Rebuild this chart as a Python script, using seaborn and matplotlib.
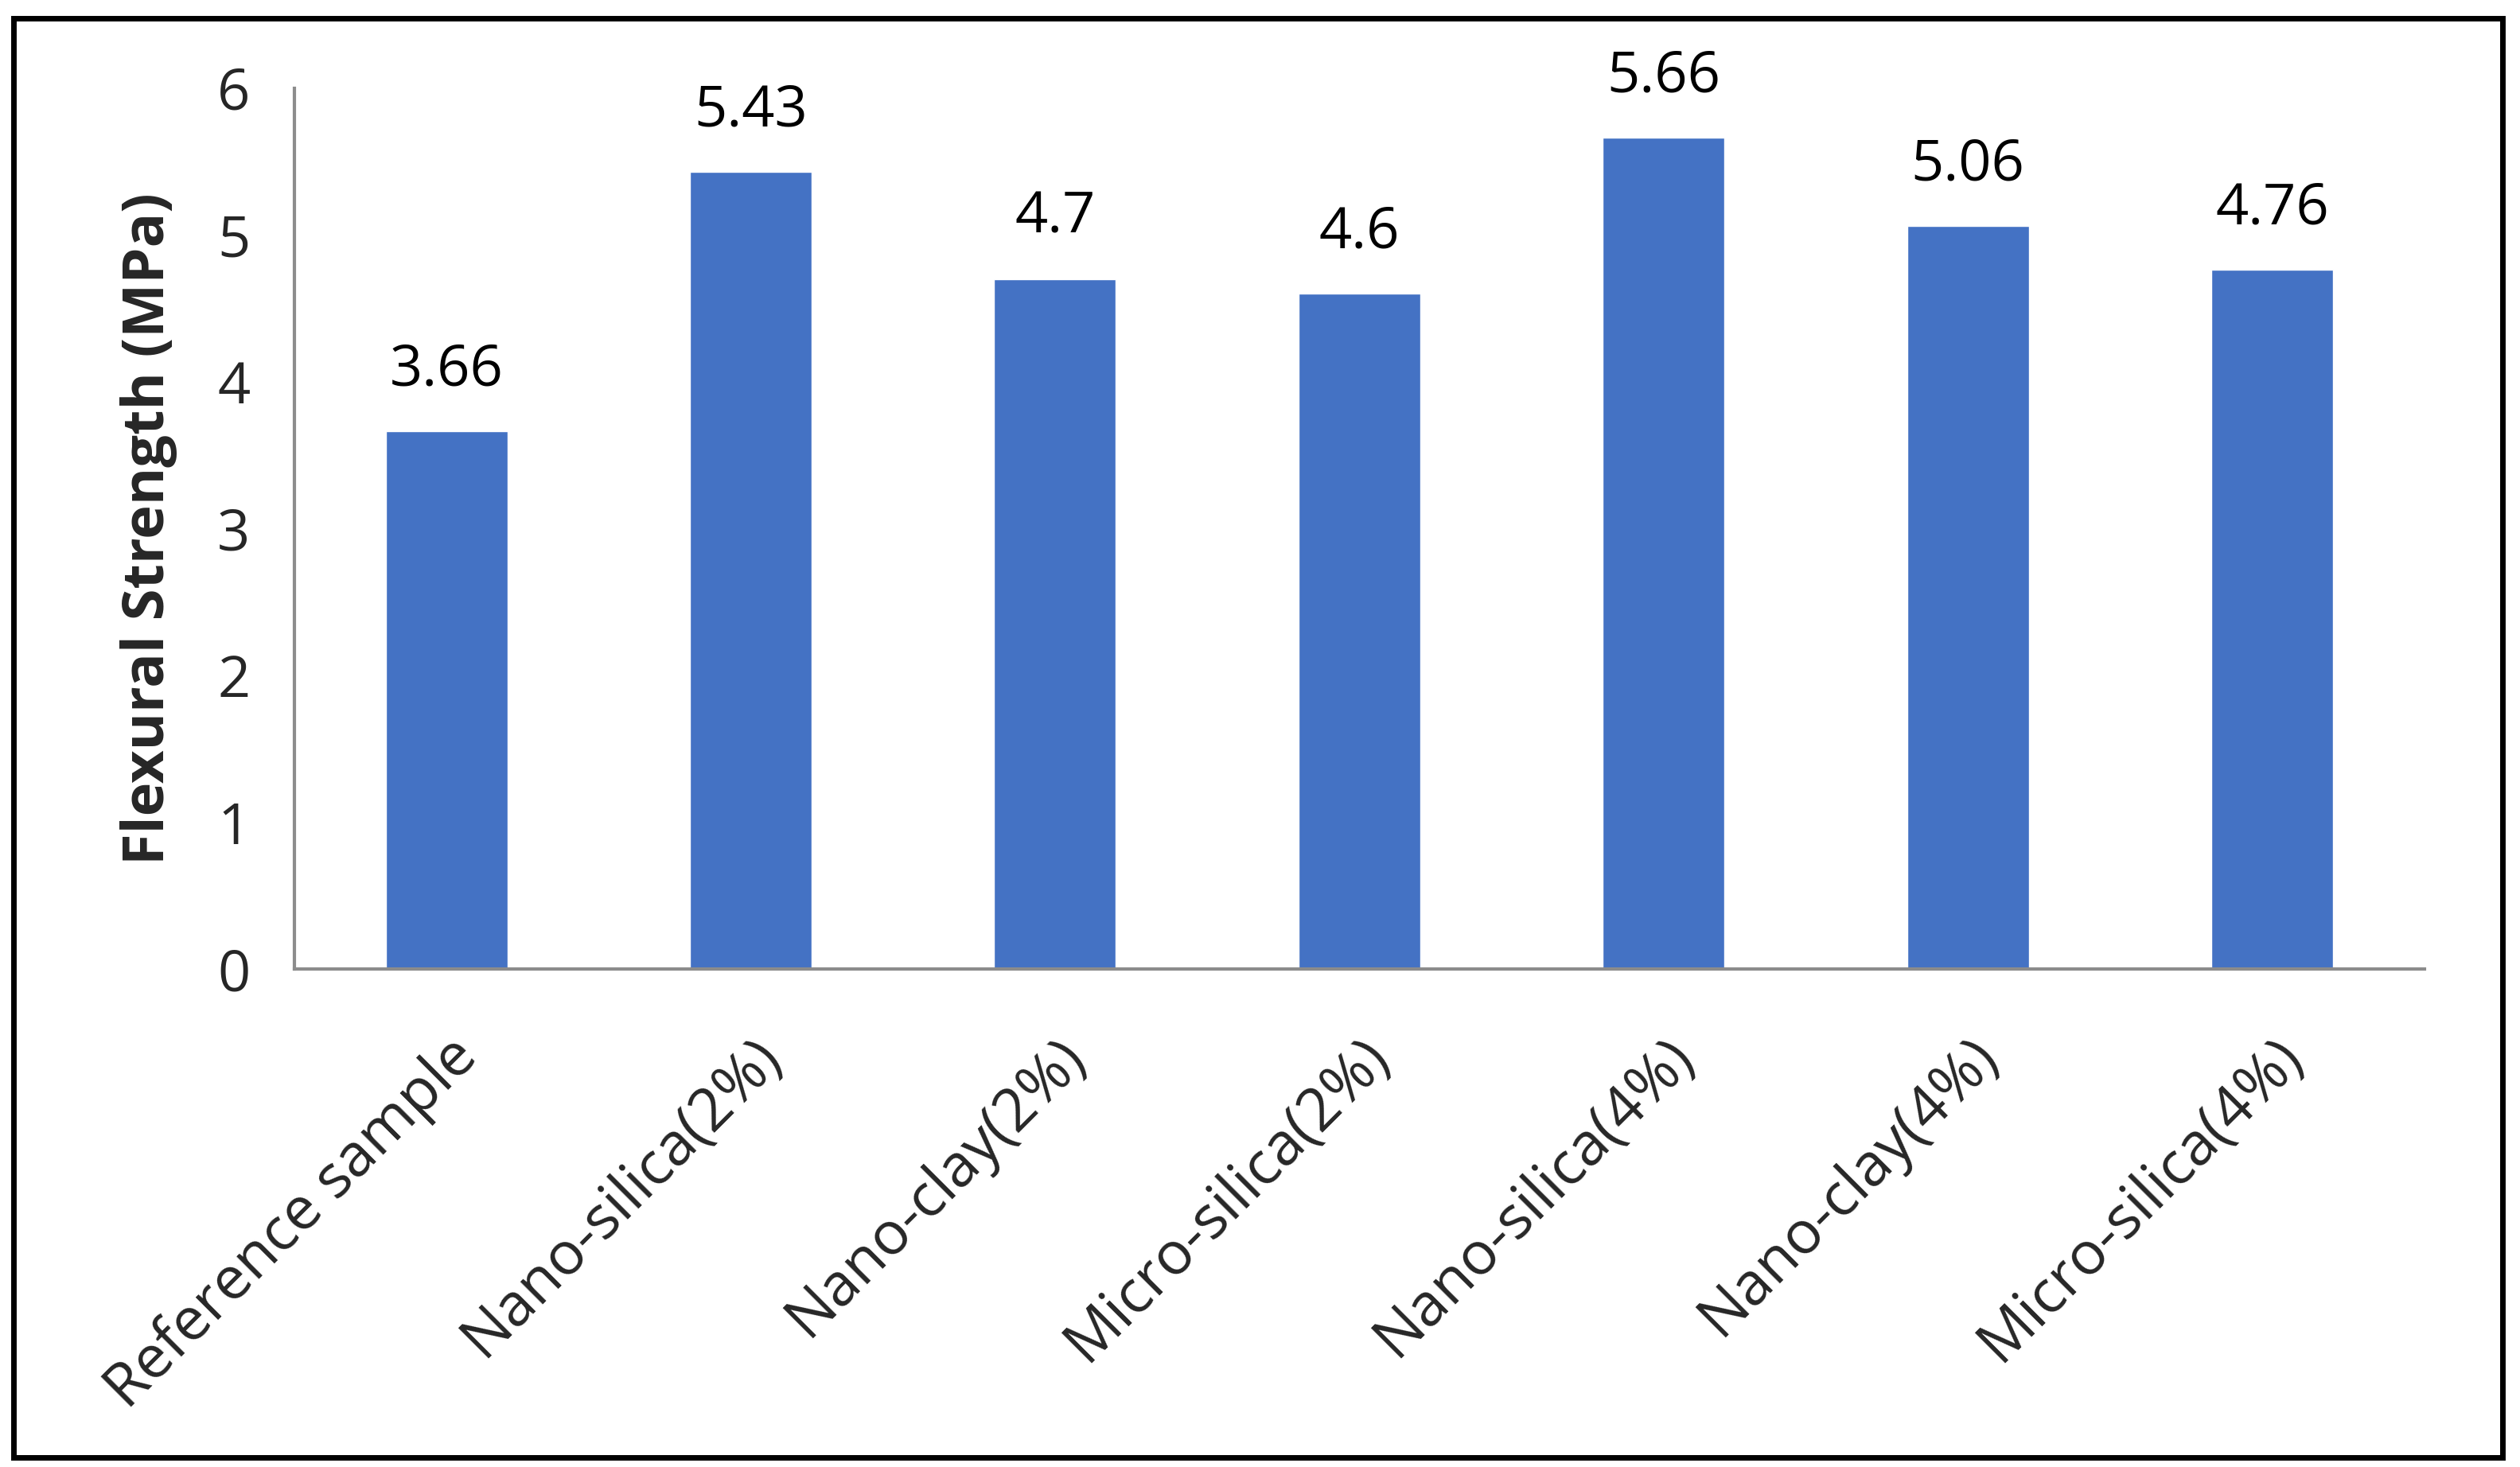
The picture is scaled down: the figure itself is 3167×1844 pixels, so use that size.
import matplotlib
matplotlib.use("Agg")
import matplotlib.pyplot as plt
import seaborn as sns
import pandas as pd
from matplotlib.patches import Rectangle

# data
samples = ["Reference sample", "Nano-silica(2%)", "Nano-clay(2%)", "Micro-silica(2%)",
           "Nano-silica(4%)", "Nano-clay(4%)", "Micro-silica(4%)"]
strength = [3.66, 5.43, 4.7, 4.6, 5.66, 5.06, 4.76]
value_labels = ["3.66", "5.43", "4.7", "4.6", "5.66", "5.06", "4.76"]
yticks = [0, 1, 2, 3, 4, 5, 6]

df = pd.DataFrame({"sample": samples, "strength": strength})

sns.set_style("white")
plt.rcParams['font.family'] = ['Open Sans', 'DejaVu Sans']

fig = plt.figure(figsize=(31.67, 18.44), dpi=100)
ax = fig.add_axes([0.1168, 0.3395, 0.8452, 0.6005])

sns.barplot(data=df, x="sample", y="strength", color="#4472C4", width=0.4,
            saturation=1, ax=ax)

for i, (v, lab) in enumerate(zip(strength, value_labels)):
    ax.text(i, v + 0.22, lab, ha="center", va="bottom", fontsize=52, color="black")

ax.set_ylim(0, 6)
ax.set_xlim(-0.5, len(samples) - 0.5)
ax.set_yticks(yticks)
ax.set_yticklabels([str(t) for t in yticks], fontsize=52)
ax.set_xticks(range(len(samples)))
ax.set_xticklabels(samples, rotation=45, ha="right", rotation_mode="anchor", fontsize=54)
ax.tick_params(axis="both", length=0)
ax.tick_params(axis="y", pad=40)
ax.tick_params(axis="x", pad=52)

ax.set_xlabel("")
ax.set_ylabel("Flexural Strength (MPa)", fontsize=52, fontweight="bold", labelpad=36)

for s in ["top", "right"]:
    ax.spines[s].set_visible(False)
for s in ["left", "bottom"]:
    ax.spines[s].set_color("#8c8c8c")
    ax.spines[s].set_linewidth(3)

# outer frame
fig.patches.append(Rectangle((0.0055, 0.0065), 0.9875, 0.981, transform=fig.transFigure,
                             fill=False, edgecolor="black", linewidth=5))

fig.savefig("out.png", dpi=100)
